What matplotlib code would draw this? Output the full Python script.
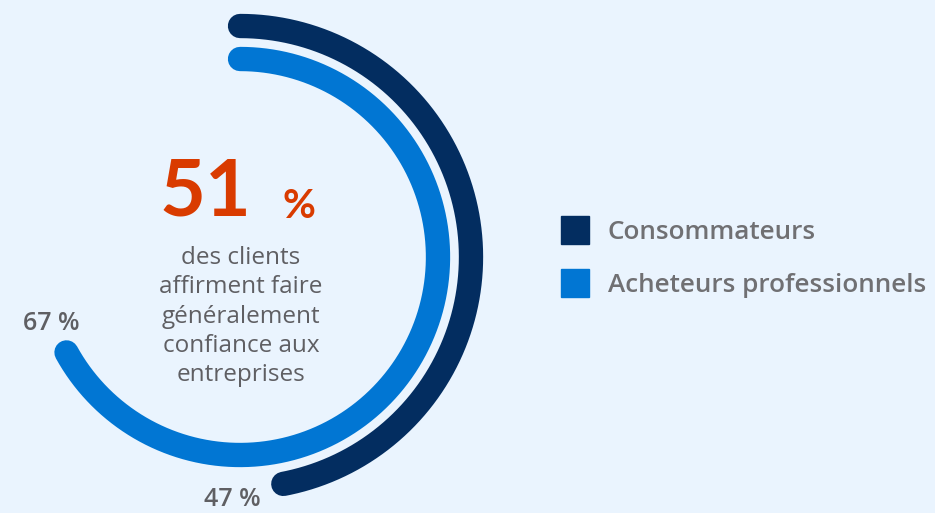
import numpy as np
import matplotlib
matplotlib.use("Agg")
import matplotlib.pyplot as plt
from matplotlib.lines import Line2D

# Data
series = ["Consommateurs", "Acheteurs professionnels"]
values = [47, 67]            # percent of the full circle
colors = ["#032D60", "#0176D3"]
radii = [0.924, 0.792]        # track position of each ring
headline_value = 51
headline_lines = ["des clients", "affirment faire", "généralement",
                  "confiance aux", "entreprises"]

W, H = 935, 513
BG = "#EAF4FE"
GRAY = "#5F5F63"
plt.rcParams["font.family"] = ["Open Sans", "DejaVu Sans"]

fig = plt.figure(figsize=(W / 100, H / 100), dpi=100, facecolor=BG)

# Polar axes centred on the ring
cx, cy, R = 240, 257, 250
ax = fig.add_axes([(cx - R) / W, (H - cy - R) / H, 2 * R / W, 2 * R / H],
                  projection="polar")
ax.set_theta_zero_location("N")
ax.set_theta_direction(-1)
ax.set_ylim(0, 1)
ax.set_axis_off()
ax.patch.set_alpha(0)

handles = []
for name, v, c, r in zip(series, values, colors, radii):
    theta = np.linspace(0, 2 * np.pi * v / 100, 400)
    ax.plot(theta, np.full_like(theta, r), color=c, lw=17.5,
            solid_capstyle="round")
    handles.append(Line2D([], [], ls="none", marker="s", ms=19.5,
                          mfc=c, mec=c, label=name))


def px(x, y):
    return x / W, 1 - y / H


# Value labels next to the ring ends
fig.text(*px(51, 323), f"{values[1]} %", ha="center", va="center",
         fontsize=18, fontweight="semibold", color=GRAY)
fig.text(*px(232, 499), f"{values[0]} %", ha="center", va="center",
         fontsize=18, fontweight="semibold", color=GRAY)

# Headline figure
fig.text(*px(205, 193), f"{headline_value}", ha="center", va="center",
         fontsize=57, fontweight="bold", color="#D93B00",
         family=["Lato", "DejaVu Sans"])
fig.text(*px(299, 206), "%", ha="center", va="center",
         fontsize=29, fontweight="bold", color="#D93B00",
         family=["Lato", "DejaVu Sans"])

for i, line in enumerate(headline_lines):
    fig.text(*px(241, 258 + i * 29.3), line, ha="center", va="center",
             fontsize=17.5, color=GRAY)

fig.legend(handles=handles, loc="center left",
           bbox_to_anchor=(562 / W, 1 - 259 / H), frameon=False,
           labelcolor="#707073", handlelength=1.0, handletextpad=0.75,
           labelspacing=1.1, borderaxespad=0, borderpad=0,
           prop={"weight": "semibold", "size": 18.8})

fig.savefig("out.png", dpi=100, facecolor=BG)
